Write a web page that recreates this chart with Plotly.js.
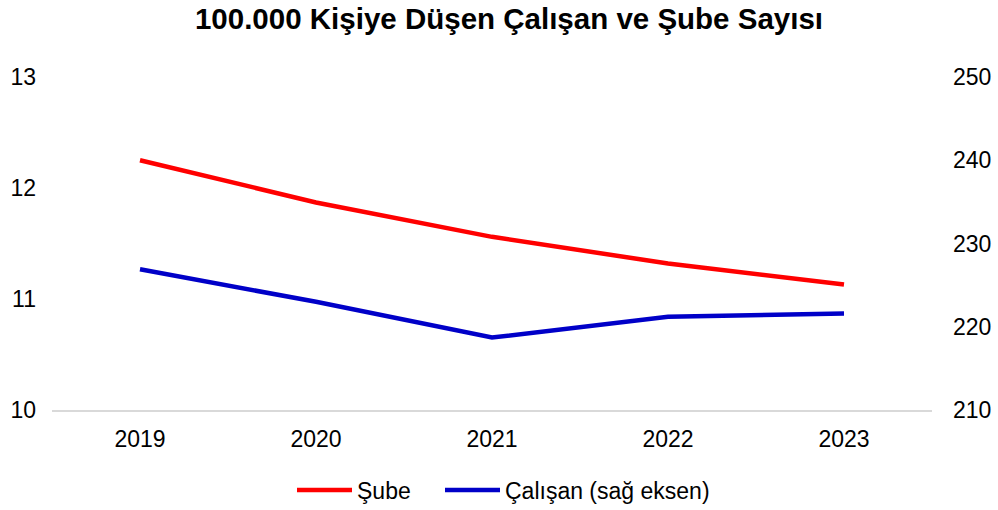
<!DOCTYPE html>
<html>
<head>
<meta charset="utf-8">
<script src="https://cdn.plot.ly/plotly-3.0.1.min.js"></script>
<style>html,body{margin:0;padding:0;background:#fff;}#chart{width:998px;height:510px;}</style>
</head>
<body>
<div id="chart"></div>
<script>
const years = ['2019', '2020', '2021', '2022', '2023'];
const subeValues = [12.25, 11.87, 11.56, 11.32, 11.13];
const calisanValues = [226.9, 223.0, 218.7, 221.2, 221.6];
const seriesNames = ['Şube', 'Çalışan (sağ eksen)'];
const titleText = '100.000 Kişiye Düşen Çalışan ve Şube Sayısı';

const font = 'Liberation Sans, Arial, sans-serif';
const data = [
  {x: years, y: subeValues, name: seriesNames[0], type: 'scatter', mode: 'lines',
   line: {color: '#FF0000', width: 4.5}, yaxis: 'y', legend: 'legend'},
  {x: years, y: calisanValues, name: seriesNames[1], type: 'scatter', mode: 'lines',
   line: {color: '#0000C8', width: 4.5}, yaxis: 'y2', legend: 'legend2'}
];
const legendBase = {orientation: 'h', xanchor: 'left', xref: 'container', yref: 'container', y: 0.039, yanchor: 'middle',
                    font: {size: 23}, itemwidth: 55, bgcolor: 'rgba(0,0,0,0)'};
const layout = {
  width: 998, height: 510,
  margin: {l: 52, r: 66, t: 77, b: 100},
  paper_bgcolor: '#fff', plot_bgcolor: '#fff',
  font: {family: font, size: 23, color: '#000'},
  title: {text: '<b>' + titleText + '</b>', font: {family: font, size: 29.5, color: '#000'}, xref: 'container', x: 0.51, xanchor: 'center', y: 0.964, yanchor: 'middle'},
  xaxis: {type: 'category', range: [-0.5, 4.5], showgrid: false, showline: true, linecolor: '#d9d9d9', linewidth: 1.5,
          ticks: '', tickfont: {size: 23}, zeroline: false, ticklabelstandoff: 8, automargin: false},
  yaxis: {range: [10, 13], dtick: 1, showgrid: false, showline: false, zeroline: false,
          ticks: '', tickfont: {size: 23}, ticklabelstandoff: 15, automargin: false},
  yaxis2: {range: [210, 250], dtick: 10, overlaying: 'y', side: 'right', showgrid: false,
           showline: false, zeroline: false, ticks: '', tickfont: {size: 23}, ticklabelstandoff: 20, automargin: false},
  showlegend: true,
  legend: Object.assign({}, legendBase, {x: 292 / 998}),
  legend2: Object.assign({}, legendBase, {x: 440 / 998})
};
Plotly.newPlot('chart', data, layout, {displayModeBar: false, staticPlot: true});
</script>
</body>
</html>
